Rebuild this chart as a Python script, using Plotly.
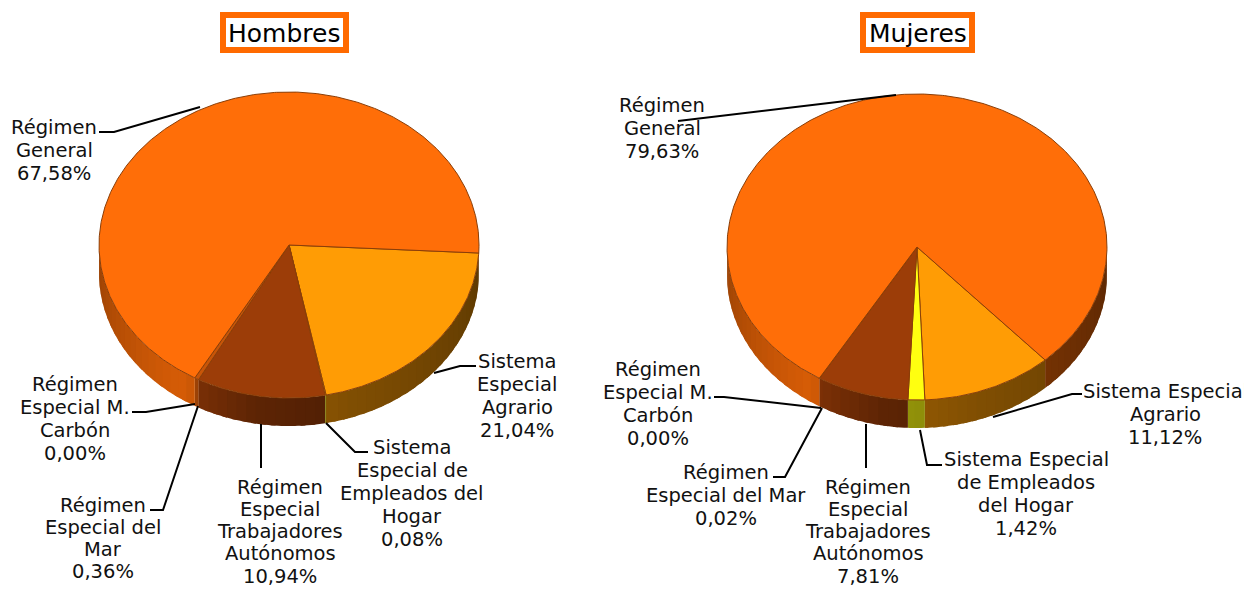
import numpy as np
import plotly.graph_objects as go

# ---- data ----
categories = ["Régimen General", "Sistema Especial Agrario", "Sistema Especial de Empleados del Hogar",
              "Régimen Especial Trabajadores Autónomos", "Régimen Especial del Mar", "Régimen Especial M. Carbón"]
hombres = [67.58, 21.04, 0.08, 10.94, 0.36, 0.00]
mujeres = [79.63, 11.12, 1.42, 7.81, 0.02, 0.00]
colors = ["#FF6E08", "#FF9C05", "#FFFF10", "#9C3D08", "#C85508", "#FF8A20"]
titles = ["Hombres", "Mujeres"]

# name lines per category, per panel
lines_h = [["Régimen", "General"], ["Sistema", "Especial", "Agrario"], ["Sistema", "Especial de", "Empleados del", "Hogar"],
           ["Régimen", "Especial", "Trabajadores", "Autónomos"], ["Régimen", "Especial del", "Mar"], ["Régimen", "Especial M.", "Carbón"]]
lines_m = [["Régimen", "General"], ["Sistema Especial", "Agrario"], ["Sistema Especial", "de Empleados", "del Hogar"],
           ["Régimen", "Especial", "Trabajadores", "Autónomos"], ["Régimen", "Especial del Mar"], ["Régimen", "Especial M.", "Carbón"]]

# label layout: centre x, first line y, line pitch
label_pos_h = [(54, 127, 23), (517, 361, 23), (412, 447, 23), (280, 487, 22.3), (103, 505, 22.3), (75, 384, 23)]
label_pos_m = [(662, 105, 23), (1165, 391, 23), (1026, 459, 23), (868, 487, 22.3), (726, 472, 23), (658, 369, 23)]
leaders_h = [[(99, 132), (114, 132), (200, 107)], [(476, 366), (460, 366), (434, 373)],
             [(326, 423), (355, 452), (368, 452)], [(261, 424), (261, 468)],
             [(150, 510), (163, 510), (198, 406)], [(132, 412), (146, 412), (195, 404)]]
leaders_m = [[(896, 95), (678, 121)], [(1082, 394), (1072, 394), (993, 417)],
             [(920, 430), (927, 465), (942, 465)], [(866, 424), (866, 468)],
             [(773, 477), (785, 477), (822, 408)], [(714, 397), (724, 397), (821, 408)]]

# pie geometry: centre, radii, depth, first slice start angle (deg clockwise from top)
RX, RY, DEPTH = 190, 153, 28
panels = [
    dict(values=hombres, cx=289, cy=245, start=93, lines=lines_h, pos=label_pos_h, leaders=leaders_h,
         box=(223, 15, 346, 50), title_x=284),
    dict(values=mujeres, cx=917, cy=247, start=137.6, lines=lines_m, pos=label_pos_m, leaders=leaders_m,
         box=(863, 15, 972, 50), title_x=918),
]
order = [1, 2, 3, 4, 5, 0]  # clockwise drawing order starting at Agrario
PAGE_MARGIN = 8  # the page body's margin


def shade(hex_col, f):
    r, g, b = int(hex_col[1:3], 16), int(hex_col[3:5], 16), int(hex_col[5:7], 16)
    return f"rgb({int(r*f)},{int(g*f)},{int(b*f)})"


def side_factor(deg):
    d = deg % 360
    return float(np.interp(d, [90, 160, 190, 215, 270], [0.36, 0.5, 0.6, 0.84, 0.6]))


fig = go.Figure()
annotations, shapes = [], []

for p in panels:
    cx, cy = p["cx"], p["cy"]
    X = lambda t: cx + RX * np.sin(np.radians(t))
    Y = lambda t: cy - RY * np.cos(np.radians(t))
    a = p["start"]
    spans = []
    for i in order:
        b = a + p["values"][i] * 3.6
        spans.append((i, a, b))
        a = b
    # side walls
    for i, a0, b0 in spans:
        for shift in (0, -360):
            s0, s1 = max(a0 + shift, 90), min(b0 + shift, 270)
            if s1 <= s0:
                continue
            edges = np.arange(s0, s1, 3.0).tolist() + [s1]
            for t0, t1 in zip(edges[:-1], edges[1:]):
                tt = np.linspace(t0, min(t1 + 1.5, s1), 5)
                xs = np.r_[X(tt), X(tt[::-1])]
                ys = np.r_[Y(tt), Y(tt[::-1]) + DEPTH]
                col = shade(colors[i], side_factor((t0 + t1) / 2))
                fig.add_trace(go.Scatter(x=xs, y=ys, mode="none", fill="toself", fillcolor=col,
                                         hoverinfo="skip", showlegend=False))
    # top slices
    for i, a0, b0 in spans:
        if p["values"][i] <= 0:
            continue
        tt = np.linspace(a0, b0, max(3, int((b0 - a0) * 2)))
        xs = np.r_[cx, X(tt), cx]
        ys = np.r_[cy, Y(tt), cy]
        fig.add_trace(go.Scatter(x=xs, y=ys, mode="lines", fill="toself", fillcolor=colors[i],
                                 line=dict(color="#8A3E08", width=1), name=categories[i],
                                 hoverinfo="name", showlegend=False))
    # leader lines
    for pts in p["leaders"]:
        fig.add_trace(go.Scatter(x=[q[0] for q in pts], y=[q[1] for q in pts], mode="lines",
                                 line=dict(color="black", width=2), hoverinfo="skip", showlegend=False))
    # labels
    for i, ls in enumerate(p["lines"]):
        lx, ly, pitch = p["pos"][i]
        pct = f"{p['values'][i]:.2f}%".replace(".", ",")
        for k, txt in enumerate(ls + [pct]):
            annotations.append(dict(x=lx, y=ly + k * pitch, text=txt, showarrow=False, xanchor="center",
                                    yanchor="middle", font=dict(family="DejaVu Sans", size=19.5, color="#111111")))

for p, title in zip(panels, titles):
    x0, y0, x1, y1 = p["box"]
    shapes.append(dict(type="rect", x0=x0, y0=y0, x1=x1, y1=y1, xref="x", yref="y",
                       line=dict(color="#FF6A00", width=6), fillcolor="white"))
    annotations.append(dict(x=p["title_x"], y=33, text=title, showarrow=False, xanchor="center", yanchor="middle",
                            font=dict(family="DejaVu Sans", size=25, color="black")))

fig.update_layout(
    width=1252 - PAGE_MARGIN, height=589 - PAGE_MARGIN, margin=dict(l=0, r=0, t=0, b=0),
    paper_bgcolor="white", plot_bgcolor="white", showlegend=False,
    xaxis=dict(range=[PAGE_MARGIN, 1252], visible=False, fixedrange=True),
    yaxis=dict(range=[589, PAGE_MARGIN], visible=False, fixedrange=True),
    annotations=annotations, shapes=shapes,
)
fig.write_html("out.html", config={"displayModeBar": False})
